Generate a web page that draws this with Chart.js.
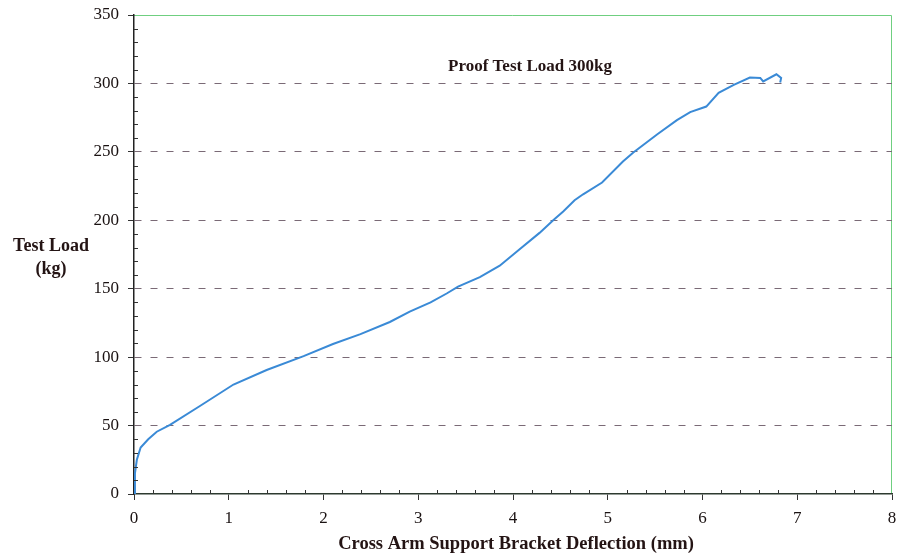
<!DOCTYPE html>
<html lang="en">
<head>
    <meta charset="UTF-8">
    <title>Cross Arm Support Bracket Deflection</title>
    <script src="https://cdn.jsdelivr.net/npm/chart.js"></script>
    <style>
        body { margin: 0; background: #fff; }
        .chart-container { width: 903px; height: 560px; }
    </style>
</head>
<body>
    <div class="chart-container"><canvas id="chart"></canvas></div>

    <script>
        // deflection (mm) and load (kg)
        const deflection = [0, 0.01, 0.03, 0.07, 0.15, 0.24, 0.38, 0.70, 1.05, 1.40, 1.79, 2.10, 2.39, 2.70, 2.91,
            3.13, 3.30, 3.42, 3.65, 3.86, 4.07, 4.28, 4.43, 4.53, 4.65, 4.74, 4.94, 5.16, 5.27, 5.52, 5.73,
            5.87, 6.04, 6.17, 6.33, 6.50, 6.61, 6.64, 6.78, 6.83, 6.82];
        const load = [0, 15, 25, 34, 40, 45.5, 50.5, 64.5, 80, 90.6, 100.7, 109.6, 116.8, 125.7, 133.3,
            140, 146.5, 151.5, 158.4, 166.8, 178.8, 190.8, 200.4, 206.4, 214.6, 219, 227.6, 242.9, 249.5, 262.7, 273.2,
            279, 283.1, 293.1, 299, 304.3, 304, 301.5, 306.7, 304, 300.7];
        const proofLoad = 300;
        const proofLabel = 'Proof Test Load 300kg';
        const xTitle = 'Cross Arm Support Bracket Deflection (mm)';
        const yTitle = ['Test Load', '(kg)'];

        const serif = '"Liberation Serif", "DejaVu Serif", serif';

        // frame, minor ticks and the free-standing texts
        const extras = {
            id: 'extras',
            beforeDraw(chart) {
                const { ctx, chartArea: a } = chart;
                ctx.save();
                ctx.strokeStyle = '#6fcf80';
                ctx.lineWidth = 1;
                ctx.beginPath();
                ctx.moveTo(a.left, a.top + 0.5);
                ctx.lineTo(a.right - 0.5, a.top + 0.5);
                ctx.lineTo(a.right - 0.5, a.bottom);
                ctx.stroke();
                ctx.restore();
            },
            afterDraw(chart) {
                const { ctx, chartArea: a, scales: { x, y } } = chart;
                ctx.save();
                ctx.strokeStyle = '#333';
                ctx.lineWidth = 1;
                ctx.beginPath();
                for (let i = 1; i < 40; i++) {
                    if (i % 5 === 0) continue;
                    const px = Math.round(x.getPixelForValue(i / 5)) + 0.5;
                    ctx.moveTo(px, a.bottom);
                    ctx.lineTo(px, a.bottom - 4);
                }
                for (let v = 10; v < 350; v += 10) {
                    if (v % 50 === 0) continue;
                    const py = Math.round(y.getPixelForValue(v)) + 0.5;
                    ctx.moveTo(a.left, py);
                    ctx.lineTo(a.left + 4, py);
                }
                ctx.stroke();

                ctx.fillStyle = '#241414';
                ctx.textAlign = 'center';
                ctx.textBaseline = 'middle';
                ctx.font = 'bold 17px ' + serif;
                ctx.fillText(proofLabel, 530, y.getPixelForValue(proofLoad) - 17);
                ctx.font = 'bold 18.5px ' + serif;
                ctx.fillText(xTitle, (a.left + a.right) / 2 + 3, 544);
                ctx.font = 'bold 18px ' + serif;
                ctx.fillText(yTitle[0], 51, 246);
                ctx.fillText(yTitle[1], 51, 269);
                ctx.restore();
            }
        };

        new Chart(document.getElementById('chart'), {
            type: 'scatter',
            data: {
                datasets: [{
                    data: deflection.map((d, i) => ({ x: d, y: load[i] })),
                    showLine: true,
                    borderColor: '#3a8ad6',
                    borderWidth: 2,
                    pointRadius: 0,
                    tension: 0
                }]
            },
            options: {
                responsive: true,
                maintainAspectRatio: false,
                animation: false,
                layout: { padding: { top: 15, right: 11, left: 0, bottom: 0 } },
                plugins: { legend: { display: false }, tooltip: { enabled: false } },
                scales: {
                    x: {
                        type: 'linear',
                        min: 0,
                        max: 8,
                        afterFit: s => { s.height = 66; s.paddingLeft = 0; s.paddingRight = 0; },
                        ticks: { stepSize: 1, padding: 8, color: '#1a1212', font: { family: serif, size: 17 } },
                        grid: { drawOnChartArea: false, tickLength: 6, tickColor: '#333' },
                        border: { color: '#2d3a30', width: 1.5 }
                    },
                    y: {
                        min: 0,
                        max: 350,
                        afterFit: s => { s.width = 134; s.paddingTop = 0; s.paddingBottom = 0; },
                        ticks: { stepSize: 50, padding: 9, color: '#1a1212', font: { family: serif, size: 17 } },
                        grid: {
                            color: c => (c.tick && c.tick.value > 0 && c.tick.value < 350) ? '#7a6a76' : 'rgba(0,0,0,0)',
                            tickColor: '#333',
                            tickLength: 6,
                            lineWidth: 1
                        },
                        border: { color: '#222', width: 1.5, dash: [7, 9] }
                    }
                }
            },
            plugins: [extras]
        });
    </script>
</body>
</html>
